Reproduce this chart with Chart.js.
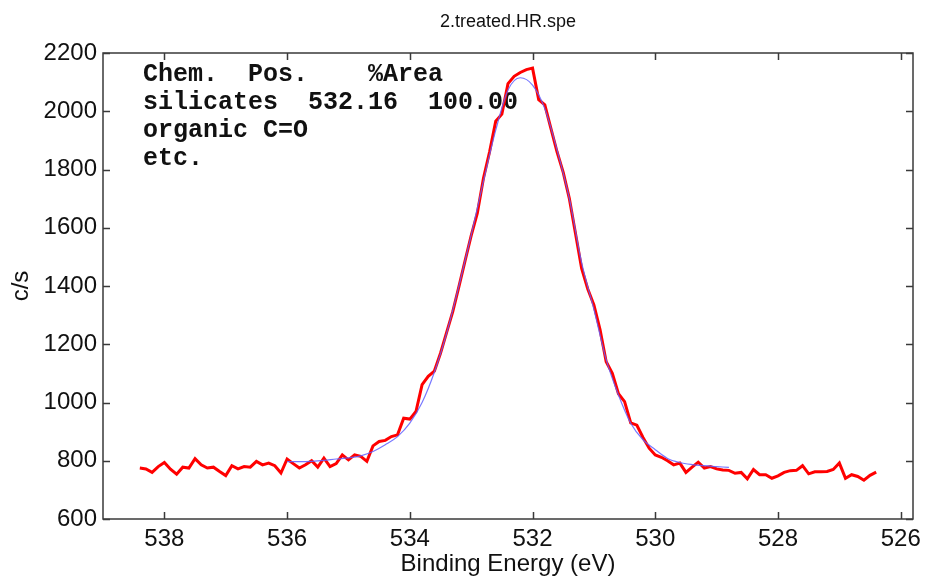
<!DOCTYPE html>
<html>
<head>
<meta charset="utf-8">
<script src="https://cdn.jsdelivr.net/npm/chart.js@4"></script>
<style>
	html, body { margin: 0; padding: 0; background: #ffffff; }
	#wrap { width: 927px; height: 581px; }
</style>
</head>
<body>
<div id="wrap"><canvas id="chart" width="927" height="581"></canvas></div>
<script>

// measured spectrum, binding energy (eV), 0.1 eV steps
const energy = [
	538.4, 538.3, 538.2, 538.1, 538.0, 537.9, 537.8, 537.7, 537.6, 537.5,
	537.4, 537.3, 537.2, 537.1, 537.0, 536.9, 536.8, 536.7, 536.6, 536.5,
	536.4, 536.3, 536.2, 536.1, 536.0, 535.9, 535.8, 535.7, 535.6, 535.5,
	535.4, 535.3, 535.2, 535.1, 535.0, 534.9, 534.8, 534.7, 534.6, 534.5,
	534.4, 534.3, 534.2, 534.1, 534.0, 533.9, 533.8, 533.7, 533.6, 533.5,
	533.4, 533.3, 533.2, 533.1, 533.0, 532.9, 532.8, 532.7, 532.6, 532.5,
	532.4, 532.3, 532.2, 532.1, 532.0, 531.9, 531.8, 531.7, 531.6, 531.5,
	531.4, 531.3, 531.2, 531.1, 531.0, 530.9, 530.8, 530.7, 530.6, 530.5,
	530.4, 530.3, 530.2, 530.1, 530.0, 529.9, 529.8, 529.7, 529.6, 529.5,
	529.4, 529.3, 529.2, 529.1, 529.0, 528.9, 528.8, 528.7, 528.6, 528.5,
	528.4, 528.3, 528.2, 528.1, 528.0, 527.9, 527.8, 527.7, 527.6, 527.5,
	527.4, 527.3, 527.2, 527.1, 527.0, 526.9, 526.8, 526.7, 526.6, 526.5,
	526.4
];

const counts = [
	775, 772, 760, 780, 794, 771, 754, 778, 775, 807,
	786, 775, 778, 763, 749, 783, 772, 780, 778, 798,
	786, 792, 783, 758, 806, 790, 775, 786, 800, 778,
	809, 780, 790, 820, 803, 820, 815, 798, 851, 866,
	870, 883, 889, 946, 943, 969, 1061, 1090, 1108, 1169,
	1241, 1312, 1398, 1486, 1573, 1650, 1770, 1861, 1966, 1990,
	2095, 2120, 2133, 2143, 2148, 2040, 2022, 1940, 1860, 1790,
	1700, 1580, 1460, 1390, 1335, 1250, 1140, 1100, 1030, 1003,
	930, 922, 880, 843, 820, 812, 800, 786, 792, 760,
	778, 795, 775, 780, 772, 768, 767, 757, 760, 738,
	770, 752, 752, 740, 748, 760, 766, 767, 783, 755,
	762, 762, 763, 770, 792, 740, 752, 746, 733, 750,
	761
];

// fitted envelope (silicates component + background)
const fitEnergy = [
	536.0, 535.8, 535.6, 535.4, 535.2, 535.0, 534.8, 534.6, 534.4, 534.2,
	534.0, 533.8, 533.6, 533.4, 533.2, 533.0, 532.8, 532.6, 532.4, 532.2,
	532.0, 531.8, 531.6, 531.4, 531.2, 531.0, 530.8, 530.6, 530.4, 530.2,
	530.0, 529.8, 529.6, 529.4, 529.2, 529.0, 528.8
];

const fitCounts = [
	797, 797, 798, 801, 806, 810, 817, 832, 855, 883,
	929, 1000, 1104, 1238, 1400, 1575, 1760, 1935, 2073, 2115,
	2090, 2009, 1867, 1700, 1480, 1320, 1147, 1026, 929, 872,
	838, 808, 794, 787, 783, 780, 777
];

const xTicks = [538, 536, 534, 532, 530, 528, 526];
const yTicks = [600, 800, 1000, 1200, 1400, 1600, 1800, 2000, 2200];

const titleText = '2.treated.HR.spe';
const noteLines = [
	'Chem.  Pos.    %Area',
	'silicates  532.16  100.00',
	'organic C=O',
	'etc.'
];

const toPoints = (xs, ys) => xs.map((v, i) => ({x: v, y: ys[i]}));

// MATLAB-like box with inward ticks, title over the plot box, and the text block
const boxPlugin = {
	id: 'box',
	beforeDatasetsDraw(chart) {
		const {ctx, chartArea: a} = chart;
		ctx.save();
		ctx.fillStyle = '#111111';
		ctx.textBaseline = 'middle';

		ctx.font = '18px "Liberation Sans", Arial, sans-serif';
		ctx.textAlign = 'center';
		ctx.fillText(titleText, (a.left + a.right) / 2, 22);

		ctx.font = 'bold 25px "Liberation Mono", "DejaVu Sans Mono", monospace';
		ctx.textAlign = 'left';
		noteLines.forEach((line, i) => {
			ctx.fillText(line, a.left + 40, a.top + 22 + i * 28);
		});
		ctx.restore();
	},
	afterDatasetsDraw(chart) {
		const {ctx, chartArea: a, scales: {x, y}} = chart;
		const len = 7;
		ctx.save();
		ctx.strokeStyle = '#3a3a3a';
		ctx.lineWidth = 1.5;
		ctx.strokeRect(a.left, a.top, a.right - a.left, a.bottom - a.top);
		ctx.beginPath();
		x.ticks.forEach(t => {
			const px = Math.round(x.getPixelForValue(t.value)) + 0.5;
			ctx.moveTo(px, a.bottom);
			ctx.lineTo(px, a.bottom - len);
			ctx.moveTo(px, a.top);
			ctx.lineTo(px, a.top + len);
		});
		y.ticks.forEach(t => {
			const py = Math.round(y.getPixelForValue(t.value)) + 0.5;
			ctx.moveTo(a.left, py);
			ctx.lineTo(a.left + len, py);
			ctx.moveTo(a.right, py);
			ctx.lineTo(a.right - len, py);
		});
		ctx.stroke();
		ctx.restore();
	}
};

const labelFont = {family: '"Liberation Sans", Arial, sans-serif', size: 24};

new Chart(document.getElementById('chart'), {
	type: 'line',
	data: {
		datasets: [{
			label: 'fit',
			data: toPoints(fitEnergy, fitCounts),
			borderColor: 'rgba(95, 95, 255, 0.85)',
			borderWidth: 1.2,
			pointRadius: 0,
			cubicInterpolationMode: 'monotone',
			fill: false,
			order: 0
		}, {
			label: 'data',
			data: toPoints(energy, counts),
			borderColor: '#ff0000',
			borderWidth: 3,
			pointRadius: 0,
			tension: 0,
			fill: false,
			order: 1
		}]
	},
	options: {
		responsive: false,
		animation: false,
		layout: {padding: {top: 53, right: 14, bottom: 0, left: 0}},
		plugins: {
			legend: {display: false},
			tooltip: {enabled: false},
			title: {display: false}
		},
		scales: {
			x: {
				type: 'linear',
				reverse: true,
				min: 525.8,
				max: 539.0,
				afterBuildTicks: s => { s.ticks = xTicks.map(v => ({value: v})); },
				afterFit: s => { s.height = 62; },
				grid: {display: false, drawTicks: false},
				border: {display: false},
				ticks: {color: '#111111', font: labelFont, padding: 6, maxRotation: 0, callback: v => String(v)},
				title: {display: true, text: 'Binding Energy (eV)', color: '#111111', font: labelFont, padding: {top: 0, bottom: 2}}
			},
			y: {
				type: 'linear',
				min: 600,
				max: 2200,
				afterBuildTicks: s => { s.ticks = yTicks.map(v => ({value: v})); },
				afterFit: s => { s.width = 103; },
				grid: {display: false, drawTicks: false},
				border: {display: false},
				ticks: {color: '#111111', font: labelFont, padding: 6, callback: v => String(v)},
				title: {display: true, text: 'c/s', color: '#111111', font: labelFont, padding: {top: 7, bottom: 0}}
			}
		}
	},
	plugins: [boxPlugin]
});
</script>
</body>
</html>
